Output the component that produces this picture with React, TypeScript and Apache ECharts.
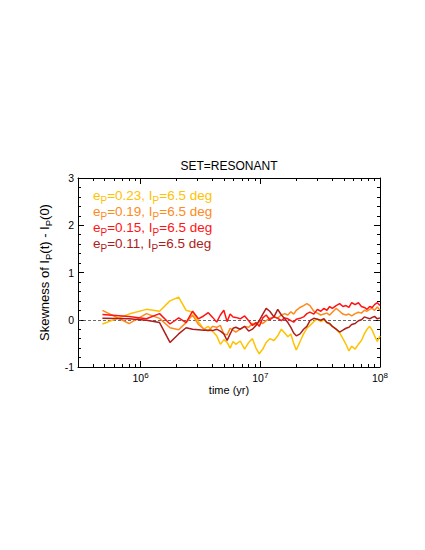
import React, { useEffect, useRef } from 'react';
import * as echarts from 'echarts';

// time samples (yr)
const timeYr = [
  4.8e5, 8.0e5, 1.12e6, 1.44e6, 1.76e6, 2.08e6, 2.4e6, 2.72e6, 3.04e6, 3.36e6,
  3.68e6, 4.0e6, 4.32e6, 4.64e6, 4.96e6, 5.28e6, 5.6e6, 5.92e6, 6.24e6, 6.8e6,
  7.4e6, 8.0e6, 8.6e6, 9.2e6, 9.8e6, 10.5e6, 11.2e6, 12e6, 13e6, 14e6,
  15e6, 16e6, 17e6, 18e6, 19e6, 20e6, 21.5e6, 23e6, 24.5e6, 26e6,
  28e6, 30e6, 32e6, 34e6, 36e6, 38e6, 40e6, 43e6, 46e6, 49e6,
  52e6, 55e6, 58e6, 62e6, 66e6, 70e6, 74e6, 78e6, 82e6, 86e6,
  90e6, 95e6, 100e6,
];

// skewness of I_P(t) - I_P(0)
const skewE023 = [
  -0.09, 0.12, 0.22, 0.18, 0.40, 0.48, 0.20, 0.16, -0.04, -0.20,
  -0.14, -0.25, -0.34, -0.52, -0.42, -0.48, -0.60, -0.46, -0.52, -0.45,
  -0.62, -0.48, -0.40, -0.60, -0.72, -0.62, -0.48, -0.40, -0.44, -0.34,
  -0.20, -0.28, -0.36, -0.30, -0.50, -0.64, -0.46, -0.30, -0.18, -0.12,
  -0.04, 0.02, -0.04, 0.00, -0.06, -0.10, -0.14, -0.20, -0.28, -0.40,
  -0.52, -0.66, -0.56, -0.62, -0.52, -0.44, -0.30, -0.20, -0.14, -0.22,
  -0.34, -0.46, -0.34,
];
const skewE019 = [
  0.20, -0.08, 0.13, 0.03, -0.17, -0.21, -0.06, 0.10, -0.10, -0.19,
  -0.24, -0.14, -0.16, -0.12, -0.30, -0.32, -0.18, -0.22, -0.26, -0.20,
  -0.14, -0.16, -0.08, -0.12, -0.04, -0.08, -0.02, 0.03, 0.06, 0.04,
  0.10, 0.13, 0.10, 0.17, 0.12, 0.20, 0.26, 0.30, 0.34, 0.30,
  0.18, 0.14, 0.10, 0.12, 0.14, 0.10, 0.16, 0.24, 0.18, 0.12,
  0.10, 0.12, 0.08, 0.13, 0.16, 0.14, 0.20, 0.18, 0.22, 0.24,
  0.20, 0.27, 0.20,
];
const skewE015 = [
  0.11, 0.07, 0.02, 0.13, -0.09, 0.04, -0.06, 0.18, 0.02, 0.08,
  0.15, 0.05, -0.05, 0.10, 0.20, -0.04, 0.12, 0.06, 0.05, 0.02,
  0.08, -0.02, -0.12, -0.06, -0.14, 0.04, 0.10, 0.00, 0.06, 0.03,
  -0.02, 0.04, 0.02, -0.02, -0.05, 0.01, 0.03, 0.06, 0.13, 0.16,
  0.12, 0.22, 0.18, 0.24, 0.20, 0.28, 0.24, 0.30, 0.34, 0.28,
  0.30, 0.26, 0.36, 0.32, 0.36, 0.28, 0.26, 0.22, 0.28, 0.26,
  0.32, 0.36, 0.30,
];
const skewE011 = [
  0.03, 0.02, -0.01, -0.06, -0.48, -0.30, -0.17, -0.20, -0.21, -0.22,
  -0.22, -0.23, -0.20, -0.24, -0.30, -0.44, -0.30, -0.18, -0.16, -0.20,
  -0.14, -0.24, -0.20, -0.12, -0.02, 0.12, 0.24, 0.18, 0.06, 0.22,
  0.10, 0.02, -0.06, -0.16, -0.28, -0.34, -0.30, -0.20, -0.14, -0.02,
  0.03, 0.01, -0.01, 0.02, -0.06, -0.08, -0.14, -0.20, -0.26, -0.22,
  -0.18, -0.16, -0.10, -0.08, -0.02, 0.00, 0.06, 0.04, 0.02, 0.05,
  0.07, 0.02, 0.04,
];

const eccLabels = ['0.23', '0.19', '0.15', '0.11'];
const incLabel = '6.5';
const lineColors = ['#FFC200', '#FF8A1C', '#FF1414', '#AE1C1C'];

const yTicks = [-1, 0, 1, 2, 3];
const xMajorExp = [6, 7, 8];
const xMinYr = 3e5;
const xMaxYr = 1e8;

const FONT = '"Liberation Sans", Arial, Helvetica, sans-serif';

export default function App() {
  const ref = useRef<HTMLDivElement>(null);
  useEffect(() => {
    if (!ref.current) return;
    const chart = echarts.init(ref.current, undefined, { renderer: 'svg' });
    const xMin = Math.log10(xMinYr);
    const xMax = Math.log10(xMaxYr);
    const minorX: number[] = [];
    for (const n of [5, 6, 7]) {
      for (let k = 2; k <= 9; k++) {
        const v = Math.log10(k * Math.pow(10, n));
        if (v > xMin && v < xMax) minorX.push(v);
      }
    }
    const allSeries = [skewE023, skewE019, skewE015, skewE011];
    const black = { color: '#000', width: 1 };
    const xBase: any = {
      type: 'value', min: xMin, max: xMax, splitLine: { show: false },
      axisLine: { show: true, onZero: false, lineStyle: black },
    };
    const yBase: any = {
      type: 'value', min: yTicks[0], max: yTicks[yTicks.length - 1], interval: 1,
      splitLine: { show: false },
      axisLine: { show: true, onZero: false, lineStyle: black },
      axisTick: { show: true, inside: true, length: 6, lineStyle: black },
      minorTick: { show: true, splitNumber: 5, length: 3, lineStyle: black },
    };
    const series: any[] = allSeries.map((vals, i) => ({
      type: 'line',
      name: 'e' + eccLabels[i],
      data: timeYr.map((t, j) => [Math.log10(t), vals[j]]),
      symbol: 'none',
      showSymbol: false,
      xAxisIndex: 0,
      yAxisIndex: 0,
      lineStyle: { color: lineColors[i], width: 1.5 },
      itemStyle: { color: lineColors[i] },
      z: 3 + i,
      ...(i === 0
        ? {
            markLine: {
              silent: true,
              symbol: ['none', 'none'],
              label: { show: false },
              lineStyle: { color: '#444', width: 0.8, type: [3, 2] },
              data: [{ yAxis: 0 }],
              z: 2,
            },
          }
        : {}),
    }));

    const legendGraphics = eccLabels.map((e, i) => ({
      type: 'text',
      x: 93,
      y: 195 + i * 16.3,
      style: {
        text: `{m|e}{s|P}{m|=${e}, I}{s|P}{m|=${incLabel} deg}`,
        fill: lineColors[i],
        verticalAlign: 'middle',
        align: 'left',
        rich: {
          m: { fontSize: 13.5, lineHeight: 20, fontFamily: FONT, fill: lineColors[i] },
          s: { fontSize: 10, lineHeight: 10, verticalAlign: 'bottom', fontFamily: FONT, fill: lineColors[i] },
        },
      },
    }));

    chart.setOption({
      animation: false,
      backgroundColor: '#fff',
      grid: { left: 78, top: 178, width: 302, height: 189, containLabel: false },
      xAxis: [
        {
          ...xBase, position: 'bottom',
          axisTick: { show: true, inside: true, length: 6, customValues: xMajorExp, lineStyle: black },
          axisLabel: {
            show: true, customValues: xMajorExp, margin: 4,
            formatter: (v: number) => `{b|10}{s|${Math.round(v)}}`,
            rich: {
              b: { fontSize: 10.5, lineHeight: 14, fontFamily: FONT, color: '#000' },
              s: { fontSize: 8, lineHeight: 8, verticalAlign: 'top', fontFamily: FONT, color: '#000' },
            },
          },
          name: 'time (yr)', nameLocation: 'middle', nameGap: 13,
          nameTextStyle: { fontSize: 11, fontFamily: FONT, color: '#000', verticalAlign: 'top' },
        },
        {
          ...xBase, position: 'bottom', axisLine: { show: false, onZero: false },
          axisTick: { show: true, inside: true, length: 3, customValues: minorX, lineStyle: black },
          axisLabel: { show: false },
        },
        {
          ...xBase, position: 'top',
          axisTick: { show: true, inside: true, length: 6, customValues: xMajorExp, lineStyle: black },
          axisLabel: { show: false },
        },
        {
          ...xBase, position: 'top', axisLine: { show: false, onZero: false },
          axisTick: { show: true, inside: true, length: 3, customValues: minorX, lineStyle: black },
          axisLabel: { show: false },
        },
      ],
      yAxis: [
        {
          ...yBase, position: 'left',
          axisLabel: { show: true, fontSize: 10.5, fontFamily: FONT, color: '#000', margin: 4 },
          name: '{m|Skewness of I}{s|P}{m|(t) - I}{s|P}{m|(0)}',
          nameLocation: 'middle', nameGap: 21,
          nameTextStyle: {
            rich: {
              m: { fontSize: 13, lineHeight: 18, fontFamily: FONT, color: '#000' },
              s: { fontSize: 9.5, lineHeight: 9.5, verticalAlign: 'bottom', fontFamily: FONT, color: '#000' },
            },
          },
        },
        { ...yBase, position: 'right', axisLabel: { show: false } },
      ],
      graphic: [
        {
          type: 'text', x: 229, y: 166,
          style: {
            text: 'SET=RESONANT', fontSize: 12, fontFamily: FONT, fill: '#000',
            align: 'center', verticalAlign: 'middle',
          },
        },
        ...legendGraphics,
      ],
      series,
    });
    return () => chart.dispose();
  }, []);
  return (
    <div
      ref={ref}
      style={{ position: 'fixed', left: 0, top: 0, width: 425, height: 550, background: '#fff' }}
    />
  );
}
